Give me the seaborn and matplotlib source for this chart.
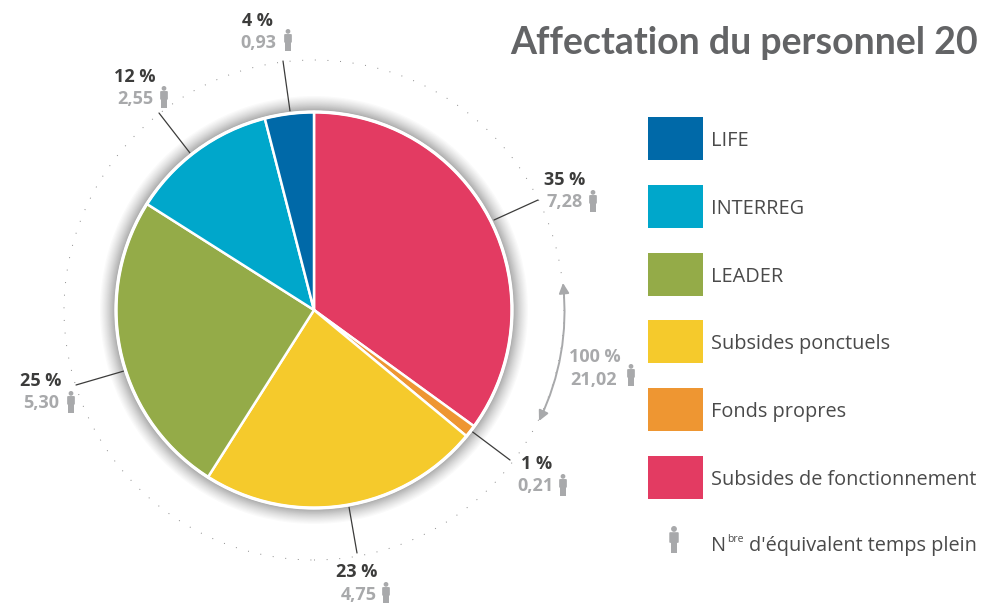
import numpy as np
import seaborn as sns
import matplotlib.pyplot as plt
from matplotlib.patches import Circle, FancyArrowPatch, FancyBboxPatch, Rectangle

# values as read on the chart, clockwise from the top
categories = ['Subsides de fonctionnement', 'Fonds propres', 'Subsides ponctuels', 'LEADER', 'INTERREG', 'LIFE']
shares = [35, 1, 23, 25, 12, 4]
percents = ['35 %', '1 %', '23 %', '25 %', '12 %', '4 %']
etp_labels = ['7,28', '0,21', '4,75', '5,30', '2,55', '0,93']
colors = ['#E33B62', '#EE9632', '#F5CA2C', '#94AB48', '#00A7CB', '#0069A8']
legend_order = ['LIFE', 'INTERREG', 'LEADER', 'Subsides ponctuels', 'Fonds propres', 'Subsides de fonctionnement']
total_pct = '100 %'
total_etp = '21,02'

DARK = '#3c3c3b'
GREY = '#a8a9ab'
TXT = '#4a4a4a'
CX, CY, R, R_OUT = 314, 603 - 310, 198, 250

sns.set_theme(style='white')
plt.rcParams['font.family'] = ['Open Sans', 'DejaVu Sans']

fig, ax = plt.subplots(figsize=(9.83, 6.03), dpi=100)
fig.subplots_adjust(0, 0, 1, 1)


def person(x, y, h=24, z=6):
    # little man icon, x = centre, y = pixel row of the top
    u = h / 24
    y = 603 - y
    ax.add_patch(Circle((x, y - 2.6 * u), 2.6 * u, fc=GREY, ec='none', zorder=z))
    ax.add_patch(FancyBboxPatch((x - 4.2 * u, y - 15 * u), 8.4 * u, 9.5 * u, boxstyle='round,pad=0,rounding_size=1',
                                fc=GREY, ec='none', zorder=z))
    ax.add_patch(Rectangle((x - 3 * u, y - 24 * u), 2.8 * u, 12 * u, fc=GREY, ec='none', zorder=z))
    ax.add_patch(Rectangle((x + 0.2 * u, y - 24 * u), 2.8 * u, 12 * u, fc=GREY, ec='none', zorder=z))


# soft shadow behind the pie
for t in np.linspace(1, 0.04, 26):
    ax.add_patch(Circle((CX, CY), R + 16 * t ** 2, fc='black', ec='none', alpha=0.02, zorder=1))

# dotted outer ring
ax.add_patch(Circle((CX, CY), R_OUT, fc='none', ec='#8a8a8a', lw=0.7, ls=(0, (1, 12)), zorder=1))

ax.pie(shares, colors=colors, startangle=90, counterclock=False, center=(CX, CY), radius=R,
       wedgeprops={'edgecolor': 'white', 'linewidth': 1.8, 'zorder': 3}, frame=True)
ax.set_xlim(0, 983)
ax.set_ylim(0, 603)
ax.set_aspect('auto')
ax.axis('off')
ax.add_patch(Circle((CX, CY), R, fc='none', ec='white', lw=2.4, zorder=4))

# leader lines, in pixel rows of the picture
leaders = [(494, 220, 538, 200), (470, 430, 510, 460), (349, 507, 357, 553),
           (124, 371, 76, 385), (190, 153, 159, 113), (290, 111, 283, 61)]
for x0, y0, x1, y1 in leaders:
    ax.plot([x0, x1], [603 - y0, 603 - y1], color=DARK, lw=0.9, zorder=2)

# label anchors: percent centre, row of percent, row of value, value centre, icon centre, icon top
anchors = [(565, 180, 202, 565, 593, 190), (537, 464, 486, 536, 563, 474), (357, 572, 595, 359, 386, 582),
           (41, 381, 403, 41, 71, 391), (135, 77, 99, 135, 164, 86), (257, 21, 43, 258, 288, 29)]
for pct, val, (px, py, vy, vx, ix, iy) in zip(percents, etp_labels, anchors):
    ax.text(px, 603 - py, pct, ha='center', va='center', fontsize=13, fontweight='bold', color=DARK, zorder=5,
            bbox=dict(fc='white', ec='none', pad=0.5))
    ax.text(vx, 603 - vy, val, ha='center', va='center', fontsize=13, fontweight='bold', color=GREY, zorder=5,
            bbox=dict(fc='white', ec='none', pad=0.5))
    person(ix, iy, h=22)

# total with its double arrow
ax.add_patch(FancyArrowPatch((563, 603 - 283), (539, 603 - 421), arrowstyle='<|-|>', mutation_scale=15,
                             connectionstyle='arc3,rad=-0.14', color=GREY, lw=1.4, zorder=5, shrinkA=0, shrinkB=0))
ax.text(595, 603 - 357, total_pct, ha='center', va='center', fontsize=13, fontweight='bold', color=GREY)
ax.text(594, 603 - 380, total_etp, ha='center', va='center', fontsize=13, fontweight='bold', color=GREY)
person(631, 364, h=22)

ax.text(510, 603 - 43, 'Affectation du personnel 20', ha='left', va='center', family=['Lato', 'DejaVu Sans'],
        fontsize=27, fontweight='bold', color='#636466')

# legend
legend_colors = dict(zip(categories, colors))
for i, name in enumerate(legend_order):
    top = 117 + i * 67.8
    ax.add_patch(Rectangle((648, 603 - top - 43), 55, 43, fc=legend_colors[name], ec='none'))
    ax.text(711, 603 - top - 24, name, ha='left', va='center', fontsize=14.3, color=TXT)

person(674, 526, h=27)
ax.text(711, 603 - 546, 'N', ha='left', va='center', fontsize=14.3, color=TXT)
ax.text(727, 603 - 540, 'bre', ha='left', va='center', fontsize=7.5, color=TXT)
ax.text(749, 603 - 546, "d'équivalent temps plein", ha='left', va='center', fontsize=14.3, color=TXT)

fig.savefig('out.png', dpi=100)
